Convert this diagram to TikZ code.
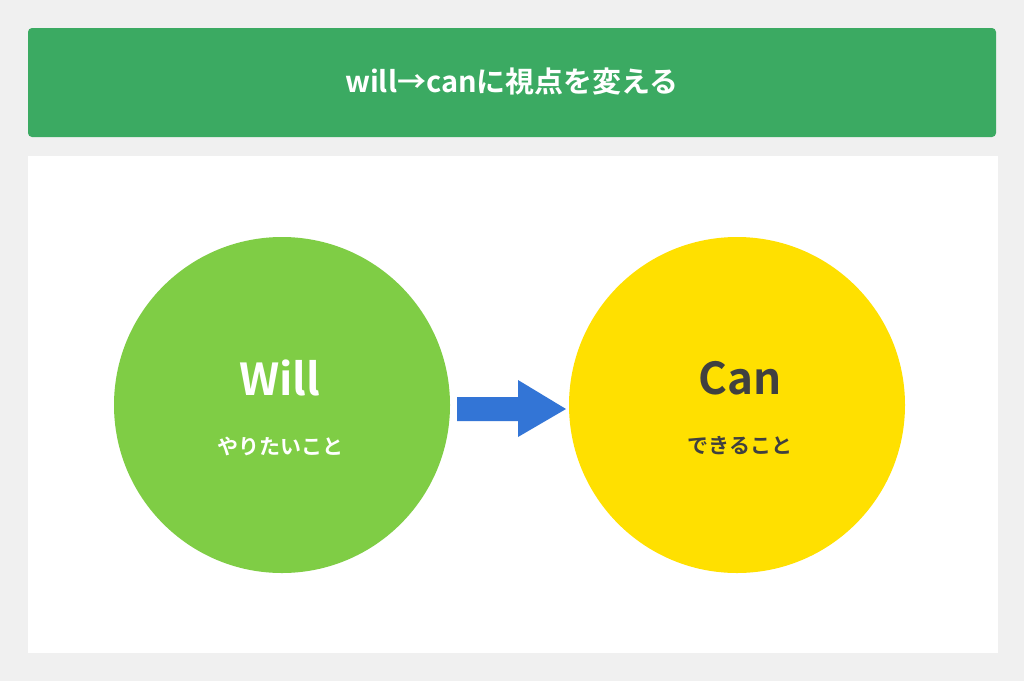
\documentclass[tikz,border=0pt]{standalone}
\usepackage{fontspec}
\setmainfont{Noto Sans CJK JP}[BoldFont={Noto Sans CJK JP Bold}]
\definecolor{bg}{HTML}{F0F0F0}
\definecolor{hdr}{HTML}{3BAA62}
\definecolor{wc}{HTML}{7FCD45}
\definecolor{cc}{HTML}{FFE000}
\definecolor{ar}{HTML}{3375D6}
\definecolor{dk}{HTML}{404040}
\begin{document}
\begin{tikzpicture}[x=1pt,y=-1pt,
  big/.style={font=\bfseries\fontsize{44}{48}\selectfont},
  small/.style={font=\bfseries\fontsize{21}{24}\selectfont}]
\useasboundingbox (0,0) rectangle (1024,681);
\fill[bg] (0,0) rectangle (1024,681);
\fill[hdr,rounded corners=4pt] (28,28) rectangle (996,137);
\node[text=white,font=\bfseries\fontsize{29}{32}\selectfont] (title) at (512,82) {will→canに視点を変える};
\fill[white] (28,156) rectangle (998,653);
\node[circle,fill=wc,minimum size=336pt,inner sep=0] (will) at (282,405) {};
\node[circle,fill=cc,minimum size=336pt,inner sep=0] (can) at (737,405) {};
\node[big,text=white] (wt) at (280,378) {Will};
\node[small,text=white] (ws) at (280,446) {やりたいこと};
\node[big,text=dk] (ct) at (740,378) {Can};
\node[small,text=dk] (cs) at (740,446) {できること};
\fill[ar] (457,397) -- (518,397) -- (518,380) -- (566,409) -- (518,437) -- (518,421) -- (457,421) -- cycle;
\end{tikzpicture}
\end{document}
